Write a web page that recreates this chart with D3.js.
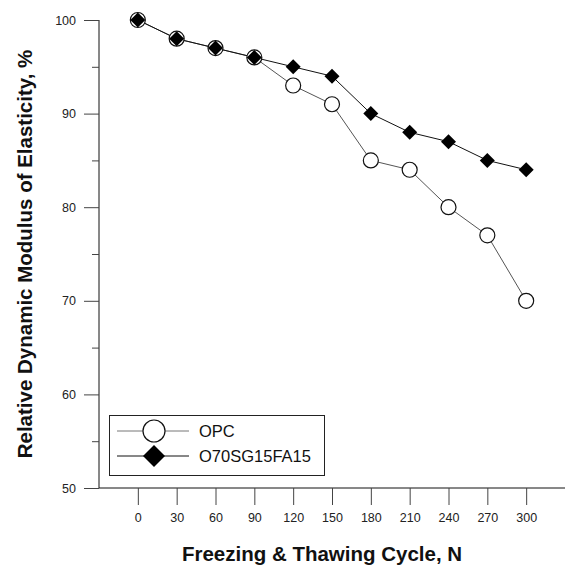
<!DOCTYPE html>
<html>
<head>
<meta charset="utf-8">
<script src="https://cdn.jsdelivr.net/npm/d3@7"></script>
<style>
  body { margin: 0; background: #fff; }
  svg { font-family: Arial, "Liberation Sans", sans-serif; }
</style>
</head>
<body>
<div id="chart"></div>
<script>
const width = 567;
const height = 568;

const cycles = [0, 30, 60, 90, 120, 150, 180, 210, 240, 270, 300];
const opcValues = [100, 98, 97, 96, 93, 91, 85, 84, 80, 77, 70];
const blendValues = [100, 98, 97, 96, 95, 94, 90, 88, 87, 85, 84];
const seriesNames = ["OPC", "O70SG15FA15"];
const yMajorTicks = [50, 60, 70, 80, 90, 100];
const yMinorTicks = [55, 65, 75, 85, 95];

const svg = d3.select("#chart")
  .append("svg")
  .attr("width", width)
  .attr("height", height);

// scales
const x = d3.scaleLinear().domain([-30, 330]).range([99, 565]);
const y = d3.scaleLinear().domain([50, 100]).range([488, 20]);

// y axis
const yAxis = d3.axisLeft(y).tickValues(yMajorTicks).tickSize(15).tickPadding(8);
const gy = svg.append("g")
  .attr("transform", `translate(${x(-30)},0)`)
  .call(yAxis);
gy.select(".domain").attr("stroke", "#111").attr("d", `M0,${y(100)}V${y(50)}`);
gy.selectAll(".tick line").attr("stroke", "#444");
gy.selectAll(".tick text").attr("font-size", 12.5).attr("fill", "#222");

const gyMinor = svg.append("g")
  .attr("transform", `translate(${x(-30)},0)`)
  .call(d3.axisLeft(y).tickValues(yMinorTicks).tickSize(7).tickFormat(""));
gyMinor.select(".domain").remove();
gyMinor.selectAll(".tick line").attr("stroke", "#444");

// x axis
const xAxis = d3.axisBottom(x).tickValues(cycles).tickSize(17).tickPadding(8);
const gx = svg.append("g")
  .attr("transform", `translate(0,${y(50)})`)
  .call(xAxis);
gx.select(".domain").attr("stroke", "#111").attr("d", `M${x(-30)},0H${x(330)}`);
gx.selectAll(".tick line").attr("stroke", "#444");
gx.selectAll(".tick text").attr("font-size", 12.5).attr("fill", "#222");

// axis titles
svg.append("text")
  .attr("transform", `translate(32,${(y(50) + y(100)) / 2}) rotate(-90)`)
  .attr("text-anchor", "middle")
  .attr("font-size", 20.5)
  .attr("font-weight", "bold")
  .attr("fill", "#111")
  .text("Relative Dynamic Modulus of Elasticity, %");

svg.append("text")
  .attr("x", 322)
  .attr("y", 561)
  .attr("text-anchor", "middle")
  .attr("font-size", 20.5)
  .attr("font-weight", "bold")
  .attr("fill", "#111")
  .text("Freezing & Thawing Cycle, N");

// lines
const line = d3.line()
  .x((d, i) => x(cycles[i]))
  .y(d => y(d));

svg.append("path")
  .datum(opcValues)
  .attr("d", line)
  .attr("fill", "none")
  .attr("stroke", "#555")
  .attr("stroke-width", 1);

svg.append("path")
  .datum(blendValues)
  .attr("d", line)
  .attr("fill", "none")
  .attr("stroke", "#111")
  .attr("stroke-width", 1);

const diamond = r => `M0,${-r}L${r},0L0,${r}L${-r},0Z`;

// markers
svg.selectAll(".opc")
  .data(opcValues)
  .enter()
  .append("circle")
  .attr("class", "opc")
  .attr("cx", (d, i) => x(cycles[i]))
  .attr("cy", d => y(d))
  .attr("r", 7.5)
  .attr("fill", "#fff")
  .attr("stroke", "#111")
  .attr("stroke-width", 1.2);

svg.selectAll(".blend")
  .data(blendValues)
  .enter()
  .append("path")
  .attr("class", "blend")
  .attr("transform", (d, i) => `translate(${x(cycles[i])},${y(d)})`)
  .attr("d", diamond(7.5))
  .attr("fill", "#000");

// legend
const legend = svg.append("g");
legend.append("rect")
  .attr("x", 109.5)
  .attr("y", 415.5)
  .attr("width", 215)
  .attr("height", 60)
  .attr("fill", "#fff")
  .attr("stroke", "#222")
  .attr("stroke-width", 1);

const legendY = [431, 456];
seriesNames.forEach((name, i) => {
  const ly = legendY[i];
  legend.append("line")
    .attr("x1", 117).attr("x2", 189)
    .attr("y1", ly).attr("y2", ly)
    .attr("stroke", i === 0 ? "#777" : "#111");
  if (i === 0) {
    legend.append("circle")
      .attr("cx", 154).attr("cy", ly).attr("r", 11)
      .attr("fill", "#fff").attr("stroke", "#111").attr("stroke-width", 1.2);
  } else {
    legend.append("path")
      .attr("transform", `translate(154,${ly})`)
      .attr("d", diamond(11))
      .attr("fill", "#000");
  }
  legend.append("text")
    .attr("x", 199).attr("y", ly + 6)
    .attr("font-size", 16.5)
    .attr("fill", "#111")
    .text(name);
});
</script>
</body>
</html>
